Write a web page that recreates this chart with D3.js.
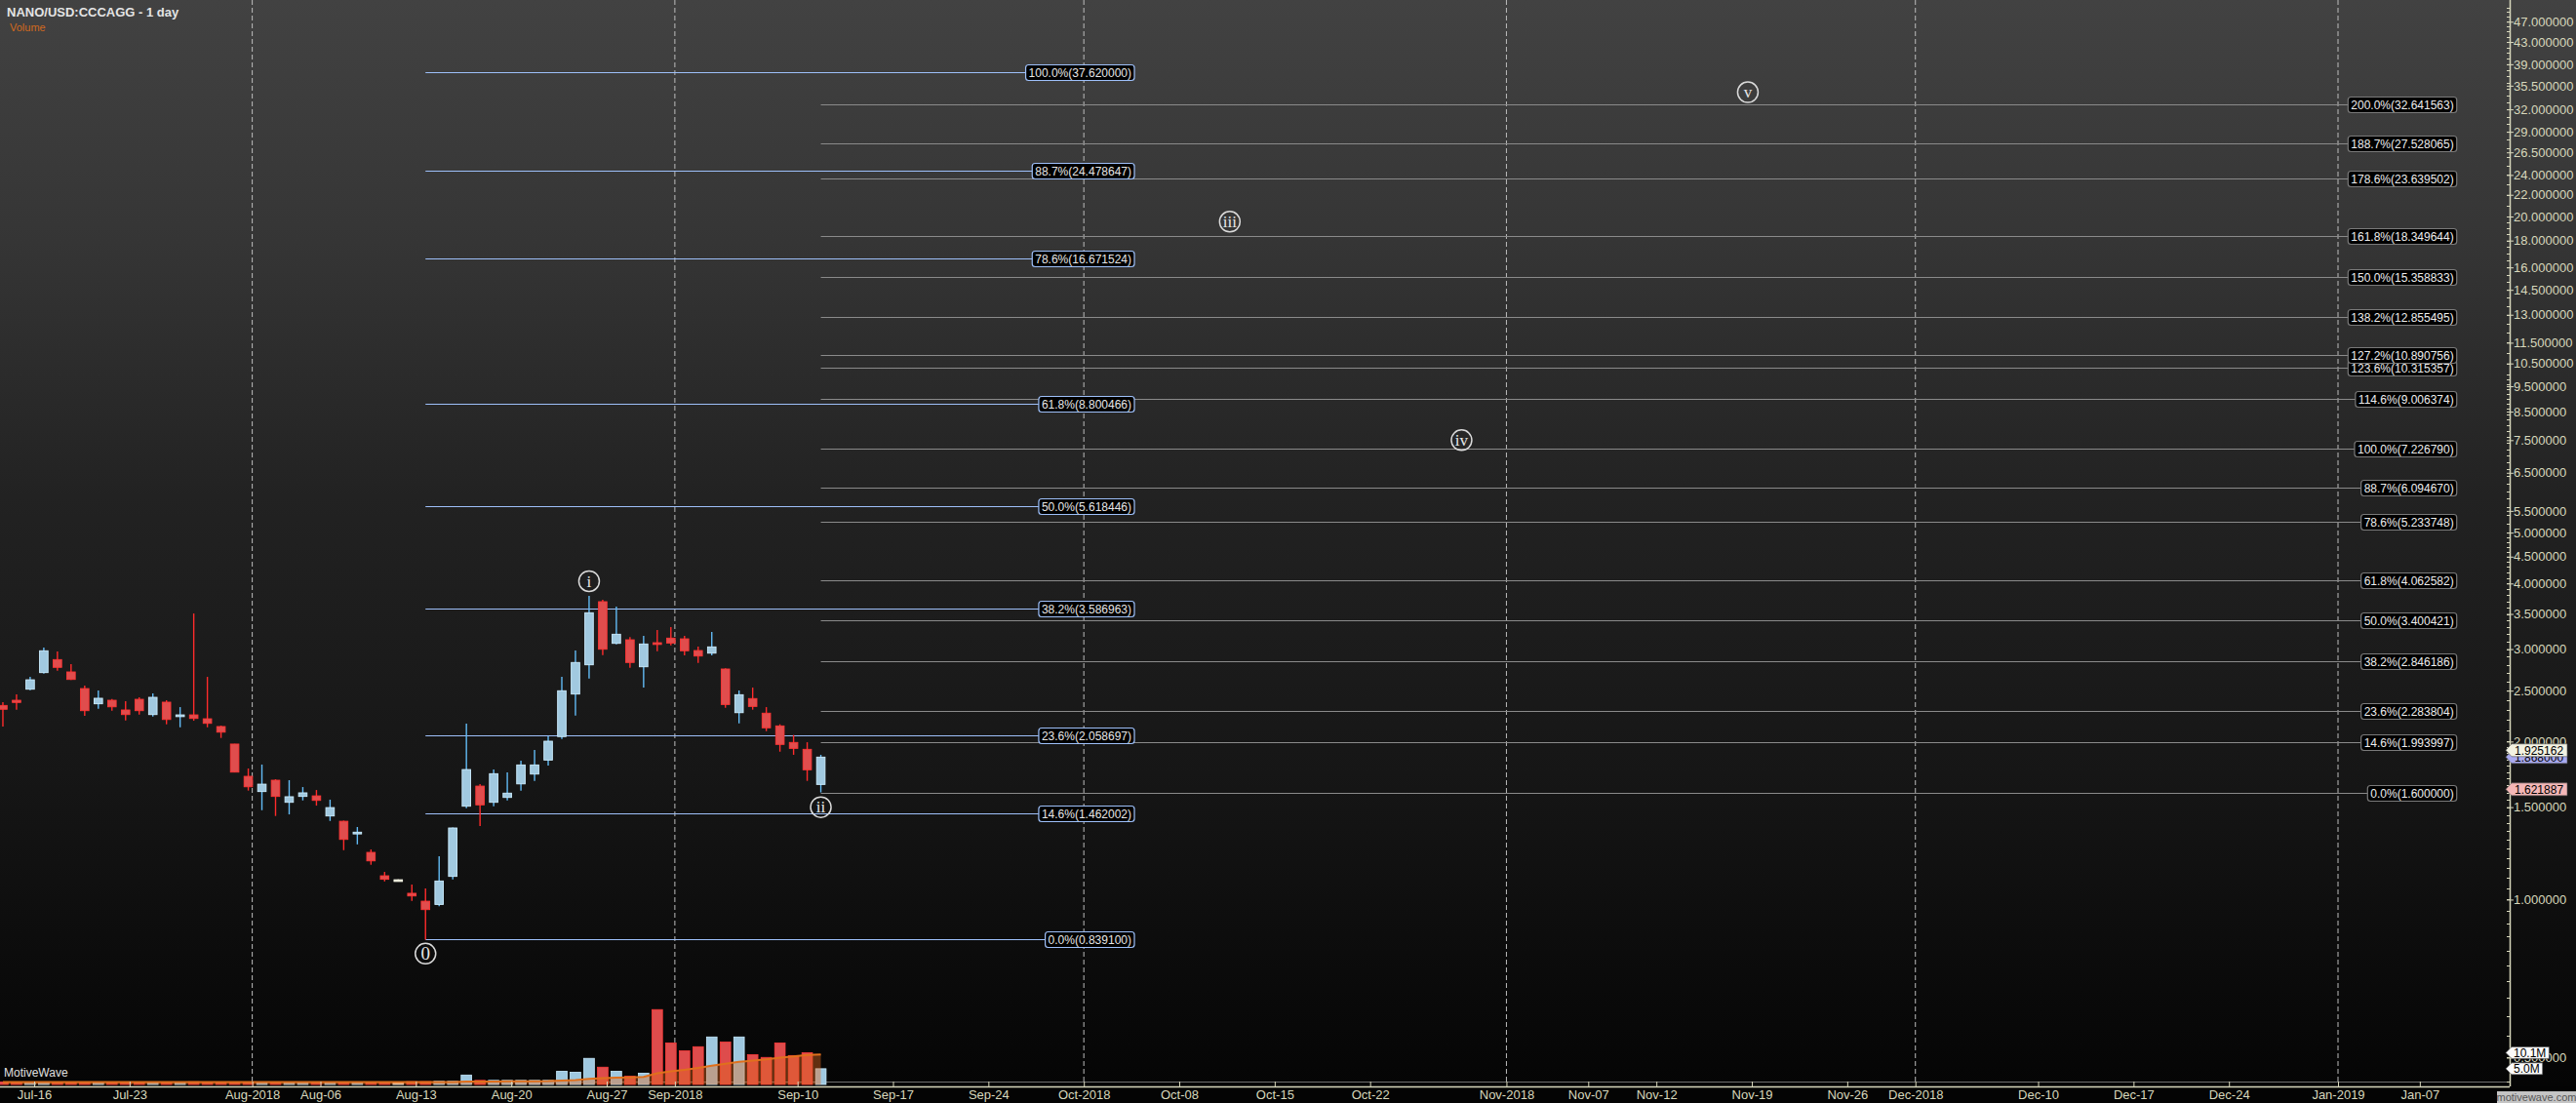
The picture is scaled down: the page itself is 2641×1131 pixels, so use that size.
<!DOCTYPE html>
<html><head><meta charset="utf-8">
<script src="https://cdn.jsdelivr.net/npm/d3@7"></script>
<style>html,body{margin:0;padding:0;background:#000;overflow:hidden}</style>
</head><body>
<svg id="chart" width="2641" height="1131"></svg>
<script>
// ---------------- DATA ----------------
const candleDates = ["2018-07-14","2018-07-15","2018-07-16","2018-07-17","2018-07-18","2018-07-19","2018-07-20","2018-07-21","2018-07-22","2018-07-23","2018-07-24","2018-07-25","2018-07-26","2018-07-27","2018-07-28","2018-07-29","2018-07-30","2018-07-31","2018-08-01","2018-08-02","2018-08-03","2018-08-04","2018-08-05","2018-08-06","2018-08-07","2018-08-08","2018-08-09","2018-08-10","2018-08-11","2018-08-12","2018-08-13","2018-08-14","2018-08-15","2018-08-16","2018-08-17","2018-08-18","2018-08-19","2018-08-20","2018-08-21","2018-08-22","2018-08-23","2018-08-24","2018-08-25","2018-08-26","2018-08-27","2018-08-28","2018-08-29","2018-08-30","2018-08-31","2018-09-01","2018-09-02","2018-09-03","2018-09-04","2018-09-05","2018-09-06","2018-09-07","2018-09-08","2018-09-09","2018-09-10","2018-09-11","2018-09-12"];
const opens  = [2.343,2.397,2.516,2.706,2.865,2.714,2.523,2.360,2.397,2.297,2.407,2.251,2.377,2.232,2.248,2.210,2.136,1.978,1.717,1.606,1.688,1.532,1.572,1.576,1.443,1.410,1.336,1.230,1.110,1.091,1.028,0.993,0.979,1.107,1.506,1.645,1.532,1.565,1.661,1.734,1.844,2.044,2.463,2.800,3.693,3.076,3.125,2.776,3.085,3.148,3.138,2.981,2.947,2.749,2.270,2.415,2.265,2.142,1.992,1.933,1.657];
const highs  = [2.377,2.460,2.656,3.020,2.969,2.808,2.556,2.502,2.411,2.387,2.428,2.470,2.397,2.326,3.507,2.656,2.145,1.980,1.777,1.808,1.695,1.688,1.638,1.617,1.550,1.414,1.375,1.246,1.129,1.093,1.068,1.050,1.209,1.372,2.163,1.659,1.769,1.747,1.839,1.928,2.046,2.656,2.981,3.788,3.724,3.614,3.161,3.179,3.262,3.304,3.179,3.033,3.234,2.759,2.502,2.534,2.326,2.157,2.058,1.994,1.887];
const lows   = [2.136,2.300,2.505,2.694,2.729,2.620,2.238,2.310,2.290,2.194,2.251,2.232,2.157,2.129,2.191,2.129,2.032,1.747,1.613,1.480,1.443,1.453,1.545,1.510,1.412,1.242,1.274,1.165,1.083,1.089,0.9945,0.8391,0.971,1.093,1.493,1.381,1.506,1.545,1.613,1.683,1.800,2.023,2.241,2.637,2.922,3.063,2.764,2.534,2.973,3.050,2.918,2.824,2.918,2.320,2.166,2.300,2.093,1.913,1.887,1.683,1.600];
const closes = [2.304,2.374,2.622,2.978,2.769,2.626,2.290,2.418,2.329,2.251,2.290,2.428,2.203,2.248,2.213,2.166,2.084,1.749,1.640,1.659,1.572,1.570,1.597,1.545,1.497,1.302,1.344,1.185,1.093,1.091,1.016,0.957,1.085,1.369,1.769,1.515,1.737,1.595,1.805,1.805,2.003,2.499,2.829,3.518,2.998,3.202,2.829,3.068,3.063,3.081,2.978,2.910,3.029,2.353,2.456,2.333,2.124,1.975,1.941,1.767,1.868];
// volume, millions
const volumes = [0.75,0.8,0.75,0.8,0.75,0.7,0.8,0.75,0.7,0.75,0.8,0.75,0.8,0.7,0.85,0.8,0.75,0.8,0.75,0.8,0.75,0.7,0.7,0.75,0.75,0.8,0.7,0.75,0.75,0.7,0.9,0.9,1.0,1.0,3.0,1.3,1.3,1.3,1.3,1.3,1.3,4.2,3.9,8.3,5.5,4.2,2.6,3.6,23.8,13.2,10.7,12.0,15.1,13.5,15.1,9.5,8.6,13.2,9.2,10.1,5.0];

// Fibonacci retracement (left, from wave 0 to 37.62) and extension (right, from wave ii)
const fibLeftPct    = ["0.0%","14.6%","23.6%","38.2%","50.0%","61.8%","78.6%","88.7%","100.0%"];
const fibLeftVals   = [0.839100,1.462002,2.058697,3.586963,5.618446,8.800466,16.671524,24.478647,37.620000];
const fibLeftSpan   = ["2018-08-14","2018-10-05"];
const fibRightPct   = ["0.0%","14.6%","23.6%","38.2%","50.0%","61.8%","78.6%","88.7%","100.0%","114.6%","123.6%","127.2%","138.2%","150.0%","161.8%","178.6%","188.7%","200.0%"];
const fibRightVals  = [1.600000,1.993997,2.283804,2.846186,3.400421,4.062582,5.233748,6.094670,7.226790,9.006374,10.315357,10.890756,12.855495,15.358833,18.349644,23.639502,27.528065,32.641563];
const fibRightSpan  = ["2018-09-12","2019-01-10"];

// Elliott wave labels
const waveNames  = ["0","i","ii","iii","iv","v"];
const waveDates  = ["2018-08-14","2018-08-26","2018-09-12","2018-10-12","2018-10-29","2018-11-19"];
const wavePrices = [0.789,4.04,1.50,19.55,7.50,34.5];

// Axis ticks
const xTickDates  = ["2018-07-16","2018-07-23","2018-08-01","2018-08-06","2018-08-13","2018-08-20","2018-08-27","2018-09-01","2018-09-10","2018-09-17","2018-09-24","2018-10-01","2018-10-08","2018-10-15","2018-10-22","2018-11-01","2018-11-07","2018-11-12","2018-11-19","2018-11-26","2018-12-01","2018-12-10","2018-12-17","2018-12-24","2019-01-01","2019-01-07"];
const xTickLabels = ["Jul-16","Jul-23","Aug-2018","Aug-06","Aug-13","Aug-20","Aug-27","Sep-2018","Sep-10","Sep-17","Sep-24","Oct-2018","Oct-08","Oct-15","Oct-22","Nov-2018","Nov-07","Nov-12","Nov-19","Nov-26","Dec-2018","Dec-10","Dec-17","Dec-24","Jan-2019","Jan-07"];
const monthLineDates = ["2018-08-01","2018-09-01","2018-10-01","2018-11-01","2018-12-01","2019-01-01"];
const yTickValues = [47,43,39,35.5,32,29,26.5,24,22,20,18,16,14.5,13,11.5,10.5,9.5,8.5,7.5,6.5,5.5,5.0,4.5,4.0,3.5,3.0,2.5,2.0,1.5,1.0,0.5];

// Axis markers
const priceMarkerVals   = [1.868000,1.925162,1.621887];
const priceMarkerColors = ["#a9aaf0","#f2f2e2","#f4b7b7"];
const volMarkerVals     = [10.1,5.0];

// ---------------- LAYOUT ----------------
const W = 2641, H = 1131;
const plotRight = 2573, axisY = 1114, volBase = 1112;
const parse = d3.utcParse("%Y-%m-%d");
const barShift = 7 * 3600 * 1000; // daily bars drawn at session start (local time)

const x = d3.scaleUtc().domain([parse("2018-07-16"), parse("2019-01-01")]).range([35, 2397]);
const xb = s => x(new Date(parse(s).getTime() - barShift));
const dayPx = x(parse("2018-07-17")) - x(parse("2018-07-16"));
const y = d3.scaleLog().domain([0.4445, 51.69]).range([volBase, 0]);
const yv = d3.scaleLinear().domain([0, 24]).range([volBase, volBase - 24 / 0.31]);

const svg = d3.select("#chart");
const defs = svg.append("defs");
const g = defs.append("linearGradient").attr("id","bg").attr("x1",0).attr("y1",0).attr("x2",0).attr("y2",1);
[[0,"#424242"],[0.22,"#353535"],[0.45,"#222222"],[0.7,"#161616"],[0.88,"#0b0b0b"],[1,"#040404"]]
  .forEach(([o,c]) => g.append("stop").attr("offset",o).attr("stop-color",c));
defs.append("clipPath").attr("id","plotClip").append("rect").attr("x",0).attr("y",0).attr("width",plotRight).attr("height",axisY);

svg.append("rect").attr("width",W).attr("height",H).attr("fill","url(#bg)");
svg.append("rect").attr("x",0).attr("y",axisY).attr("width",W).attr("height",H-axisY).attr("fill","#040404");

const plot = svg.append("g").attr("clip-path","url(#plotClip)");

// month dashed lines
plot.selectAll("line.month").data(monthLineDates).join("line")
  .attr("x1",d=>x(parse(d))).attr("x2",d=>x(parse(d)))
  .attr("y1",0).attr("y2",1109)
  .attr("stroke","#bdbdbd").attr("stroke-width",1).attr("stroke-dasharray","5,3");

// fib lines
const fibL = fibLeftVals.map((v,i)=>({v, pct:fibLeftPct[i]}));
const fibR = fibRightVals.map((v,i)=>({v, pct:fibRightPct[i]}));
const lx0 = xb(fibLeftSpan[0]), lx1 = xb(fibLeftSpan[1]);
const rx0 = xb(fibRightSpan[0]), rx1 = xb(fibRightSpan[1]);
plot.selectAll("line.fibL").data(fibL).join("line")
  .attr("x1",lx0).attr("x2",lx1).attr("y1",d=>Math.round(y(d.v))+0.5).attr("y2",d=>Math.round(y(d.v))+0.5)
  .attr("stroke","#9ec0fa").attr("stroke-width",1.2);
plot.selectAll("line.fibR").data(fibR).join("line")
  .attr("x1",rx0).attr("x2",rx1).attr("y1",d=>Math.round(y(d.v))+0.5).attr("y2",d=>Math.round(y(d.v))+0.5)
  .attr("stroke","#8a8a8a").attr("stroke-width",1.2);

// volume
const bars = candleDates.map((d,i)=>({d, o:opens[i], h:highs[i], l:lows[i], c:closes[i], v:volumes[i]}));
const colorOf = b => b.c > b.o ? "up" : (b.c < b.o ? "down" : "flat");
plot.append("line").attr("x1",0).attr("x2",plotRight).attr("y1",1109.5).attr("y2",1109.5).attr("stroke","#6e6e6e").attr("stroke-width",1.2);
const vw = dayPx * 0.77;
plot.selectAll("rect.vol").data(bars).join("rect")
  .attr("x",b=>xb(b.d)-vw/2).attr("width",vw)
  .attr("y",b=>yv(b.v)).attr("height",b=>volBase-yv(b.v))
  .attr("fill",b=>({up:"#9fc8e0",down:"#de4c4c",flat:"#f0f0dc"})[colorOf(b)])
  .attr("stroke",b=>({up:"#c9ecff",down:"#ff3a3a",flat:"#ffffff"})[colorOf(b)]).attr("stroke-width",0.8);
// 20-bar moving average of volume
const ma = bars.map((b,i)=>{ const s = bars.slice(Math.max(0,i-19), i+1); return {d:b.d, v:d3.mean(s, q=>q.v)}; });
plot.append("path").datum(ma)
  .attr("d", d3.area().x(p=>xb(p.d)).y0(volBase).y1(p=>yv(p.v)))
  .attr("fill","rgb(225,105,30)").attr("fill-opacity",0.42);
plot.append("path").datum(ma)
  .attr("d", d3.line().x(p=>xb(p.d)).y(p=>yv(p.v)))
  .attr("fill","none").attr("stroke","#e0701c").attr("stroke-width",2);

// candles
const cw = dayPx * 0.62;
const cg = plot.append("g");
cg.selectAll("line.wick").data(bars).join("line")
  .attr("x1",b=>xb(b.d)).attr("x2",b=>xb(b.d)).attr("y1",b=>y(b.h)).attr("y2",b=>y(b.l))
  .attr("stroke",b=>({up:"#62bbf5",down:"#ff2b2b",flat:"#f0f0dc"})[colorOf(b)]).attr("stroke-width",1.4);
cg.selectAll("rect.body").data(bars).join("rect")
  .attr("x",b=>xb(b.d)-cw/2).attr("width",cw)
  .attr("y",b=>Math.min(y(b.o),y(b.c))).attr("height",b=>Math.max(1.8,Math.abs(y(b.o)-y(b.c))))
  .attr("fill",b=>({up:"#a1c9e0",down:"#e04d4d",flat:"#f0f0dc"})[colorOf(b)])
  .attr("stroke",b=>({up:"#cdeeff",down:"#ff3535",flat:"#f7f7e8"})[colorOf(b)]).attr("stroke-width",0.9);

// fib labels
function fibLabels(data, xEnd, border, textColor){
  const lg = plot.append("g");
  data.forEach(d=>{
    const yy = Math.round(y(d.v))+0.5;
    const grp = lg.append("g");
    const box = grp.append("rect");
    const t = grp.append("text").attr("x",xEnd-3).attr("y",yy).attr("dy","0.36em")
      .attr("text-anchor","end").attr("font-family","'Liberation Sans',Arial,sans-serif")
      .attr("font-size",12).attr("fill",textColor).text(`${d.pct}(${d.v.toFixed(6)})`);
    const tw = t.node().getComputedTextLength();
    box.attr("x",xEnd-tw-6).attr("y",yy-8).attr("width",tw+6).attr("height",16).attr("rx",3)
      .attr("fill","#000").attr("stroke",border).attr("stroke-width",1.2);
  });
}
fibLabels(fibL, lx1, "#9ec0fa", "#e6e6e6");
fibLabels(fibR, rx1, "#7a7a7a", "#ededed");

// wave labels
const waves = waveNames.map((n,i)=>({n, d:waveDates[i], p:wavePrices[i]}));
const wg = plot.append("g");
wg.selectAll("circle").data(waves).join("circle")
  .attr("cx",w=>xb(w.d)).attr("cy",w=>y(w.p)).attr("r",10.5)
  .attr("fill","none").attr("stroke","#dadada").attr("stroke-width",1.5);
wg.selectAll("text").data(waves).join("text")
  .attr("x",w=>xb(w.d)).attr("y",w=>y(w.p)).attr("dy","0.33em").attr("text-anchor","middle")
  .attr("font-family","'Liberation Serif','Times New Roman',serif").attr("font-size",w=>w.n==="0"?19:17)
  .attr("fill","#e6e6e6").text(w=>w.n);

// ---------------- AXES ----------------
const axisColor = "#d8d8bc";
// x axis
const xa = svg.append("g").attr("transform",`translate(0,${axisY})`)
  .call(d3.axisBottom(x).tickValues(xTickDates.map(parse)).tickFormat((d,i)=>xTickLabels[i]).tickSizeInner(-5).tickSizeOuter(0).tickPadding(4));
xa.select(".domain").remove();
xa.selectAll(".tick line").attr("stroke",axisColor);
xa.selectAll(".tick text").attr("fill",axisColor).attr("font-family","'Liberation Sans',Arial,sans-serif").attr("font-size",13);
svg.append("line").attr("x1",0).attr("x2",plotRight).attr("y1",axisY+0.5).attr("y2",axisY+0.5).attr("stroke",axisColor).attr("stroke-width",1.5);

// y axis
svg.append("line").attr("x1",plotRight+0.5).attr("x2",plotRight+0.5).attr("y1",0).attr("y2",axisY).attr("stroke",axisColor).attr("stroke-width",1.5);
const minorVals = [];
for (let v=0.45; v<51; v = +(v + (v<2?0.05:v<5?0.1:v<10?0.2:v<20?0.5:1)).toFixed(2)) minorVals.push(v);
svg.append("g").selectAll("line").data(minorVals).join("line")
  .attr("x1",plotRight-3).attr("x2",plotRight).attr("y1",v=>Math.round(y(v))+0.5).attr("y2",v=>Math.round(y(v))+0.5)
  .attr("stroke",axisColor).attr("stroke-width",1);
const ya = svg.append("g").attr("transform",`translate(${plotRight},0)`)
  .call(d3.axisRight(y).tickValues(yTickValues).tickFormat(d3.format(".6f")).tickSizeInner(4).tickSizeOuter(0).tickPadding(0));
ya.select(".domain").remove();
ya.selectAll(".tick line").attr("stroke",axisColor).attr("x1",-3);
ya.selectAll(".tick text").attr("fill",axisColor).attr("font-family","'Liberation Sans',Arial,sans-serif").attr("font-size",13);

// markers
function marker(yy, label, bg){
  const x0 = plotRight - 4, x1 = x0 + 63, h = 13;
  const m = svg.append("g");
  m.append("path").attr("d",`M${x0},${yy} L${x0+6},${yy-h/2} L${x1},${yy-h/2} L${x1},${yy+h/2} L${x0+6},${yy+h/2} Z`)
    .attr("fill",bg).attr("stroke","#555").attr("stroke-width",0.6);
  m.append("text").attr("x",x0+9).attr("y",yy).attr("dy","0.36em").attr("font-family","'Liberation Sans',Arial,sans-serif")
    .attr("font-size",12).attr("fill","#000").text(label);
  return m;
}
priceMarkerVals.forEach((v,i)=>marker(y(v), v.toFixed(6), priceMarkerColors[i]));
volMarkerVals.forEach(v=>{
  const yy = yv(v), x0 = plotRight - 4, h = 12;
  const lbl = d3.format(".1f")(v) + "M";
  const m = svg.append("g");
  const t = m.append("text").attr("x",x0+8).attr("y",yy).attr("dy","0.36em").attr("font-family","'Liberation Sans',Arial,sans-serif")
    .attr("font-size",12).attr("fill","#000").text(lbl);
  const tw = t.node().getComputedTextLength();
  m.insert("path","text").attr("d",`M${x0},${yy} L${x0+6},${yy-h/2} L${x0+tw+11},${yy-h/2} L${x0+tw+11},${yy+h/2} L${x0+6},${yy+h/2} Z`)
    .attr("fill","#fbfbfb").attr("stroke","#444").attr("stroke-width",0.6);
});

// ---------------- TEXT ----------------
svg.append("text").attr("x",7).attr("y",17).attr("font-family","'Liberation Sans',Arial,sans-serif").attr("font-weight","bold")
  .attr("font-size",13).attr("fill","#e4e4e4").text("NANO/USD:CCCAGG - 1 day");
svg.append("text").attr("x",10).attr("y",32).attr("font-family","'Liberation Sans',Arial,sans-serif")
  .attr("font-size",11).attr("fill","#d2691e").text("Volume");
svg.append("text").attr("x",4).attr("y",1104).attr("font-family","'Liberation Sans',Arial,sans-serif")
  .attr("font-size",12).attr("fill","#e0e0e0").text("MotiveWave");
svg.append("rect").attr("x",2560).attr("y",1119).attr("width",81).attr("height",12).attr("fill","#c4c4c4");
svg.append("text").attr("x",2600.5).attr("y",1129).attr("text-anchor","middle").attr("font-family","'Liberation Sans',Arial,sans-serif")
  .attr("font-size",11).attr("fill","#555").text("motivewave.com");
</script>
</body></html>
